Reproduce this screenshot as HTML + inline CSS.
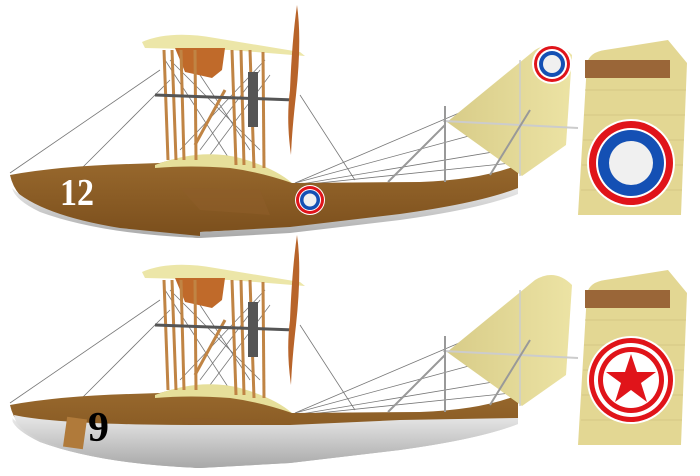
<!DOCTYPE html>
<html><head><meta charset="utf-8"><style>html,body{margin:0;padding:0;background:#fff}svg{display:block}</style></head>
<body>
<svg width="700" height="476" viewBox="0 0 700 476" xmlns="http://www.w3.org/2000/svg">
<defs>
<linearGradient id="wood" x1="0" x2="0" y1="0" y2="1"><stop offset="0" stop-color="#9a6a2e"/><stop offset="1" stop-color="#7a4e1c"/></linearGradient>
<linearGradient id="yel" x1="0" x2="1"><stop offset="0" stop-color="#d8cc88"/><stop offset="1" stop-color="#ece3a4"/></linearGradient>
<linearGradient id="grey" x1="0" x2="0" y1="0" y2="1"><stop offset="0" stop-color="#e8e8e8"/><stop offset="1" stop-color="#a8a8a8"/></linearGradient>
<g id="plane">
  <g stroke="#777" stroke-width="0.8" fill="none">
    <line x1="10" y1="173" x2="160" y2="70"/><line x1="50" y1="200" x2="170" y2="80"/>
    <line x1="300" y1="95" x2="355" y2="180"/><line x1="295" y1="183" x2="560" y2="70"/>
    <line x1="295" y1="183" x2="565" y2="110"/><line x1="295" y1="185" x2="565" y2="140"/>
    <line x1="300" y1="185" x2="540" y2="160"/>
    <line x1="170" y1="60" x2="260" y2="150"/><line x1="180" y1="150" x2="265" y2="60"/>
    <line x1="190" y1="60" x2="250" y2="150"/><line x1="200" y1="150" x2="260" y2="70"/>
    <line x1="165" y1="60" x2="230" y2="160"/><line x1="210" y1="155" x2="270" y2="75"/>
  </g>
  <path d="M10,175 Q60,166 130,164 L160,163 Q200,150 240,163 Q270,172 292,183 L420,182 Q480,180 518,165 L518,190 Q480,205 400,215 L290,228 L200,232 L200,238 Q100,232 40,210 Q15,198 10,175Z" fill="url(#wood)"/>
  <path d="M12,188 Q40,215 120,228 L200,236 L200,238 Q100,234 40,212 Q15,200 12,188Z" fill="url(#grey)"/>
  <path d="M200,232 L290,227 L400,214 Q480,203 518,188 L518,194 Q480,209 400,220 L290,233 L200,238Z" fill="url(#grey)"/>
  <path d="M180,188 L260,190 L270,215 L200,210Z" fill="#8e5e2a" opacity="0.6"/>
  <path d="M155,165 Q200,148 240,158 Q275,168 292,183 Q260,172 230,168 Q190,165 155,168Z" fill="#e6df9a"/>
  <path d="M142,42 Q170,30 215,38 L300,52 L305,56 L230,50 L145,48Z" fill="#ece6a8"/>
  <path d="M175,48 L225,48 L222,70 L212,78 L185,72Z" fill="#c06a2a"/>
  <g stroke="#c08444" stroke-width="3">
    <line x1="164" y1="50" x2="168" y2="160"/><line x1="172" y1="50" x2="176" y2="160"/>
    <line x1="181" y1="50" x2="184" y2="160"/><line x1="195" y1="50" x2="196" y2="160"/>
    <line x1="232" y1="50" x2="236" y2="165"/><line x1="241" y1="50" x2="244" y2="165"/>
    <line x1="250" y1="50" x2="254" y2="168"/><line x1="263" y1="52" x2="264" y2="168"/>
    <line x1="225" y1="90" x2="195" y2="145"/>
  </g>
  <line x1="155" y1="95" x2="295" y2="100" stroke="#555" stroke-width="3"/>
  <rect x="248" y="72" width="10" height="55" fill="#555"/>
  <path d="M297,5 Q302,40 296,95 Q292,130 291,155 Q286,120 290,90 Q292,40 297,5Z" fill="#b8642a"/>
  <path d="M447,122 L535,50 Q555,38 572,55 L566,145 L522,176 Z" fill="url(#yel)"/>
  <line x1="443" y1="121" x2="578" y2="128" stroke="#ccc" stroke-width="2"/>
  <line x1="445" y1="106" x2="445" y2="182" stroke="#999" stroke-width="2"/>
  <line x1="520" y1="60" x2="520" y2="176" stroke="#ccc" stroke-width="1.5"/>
  <line x1="490" y1="175" x2="530" y2="110" stroke="#999" stroke-width="2"/>
  <line x1="388" y1="182" x2="445" y2="125" stroke="#999" stroke-width="2"/>
  <path d="M578,215 L587,63 Q590,52 605,50 L668,40 L687,63 L681,215Z" fill="#e3d793"/>
  <g stroke="#cfc282" stroke-width="0.7"><line x1="585" y1="90" x2="686" y2="90"/><line x1="584" y1="115" x2="685" y2="115"/><line x1="583" y1="140" x2="684" y2="140"/><line x1="582" y1="165" x2="683" y2="165"/><line x1="581" y1="190" x2="682" y2="190"/></g>
  <rect x="585" y="60" width="85" height="18" fill="#9a6638"/>
</g>
</defs>

<use href="#plane"/>
<use href="#plane" transform="translate(0,230)"/>

<circle cx="552" cy="64" r="20" fill="#fff"/><circle cx="552" cy="64" r="18" fill="#e0141a"/><circle cx="552" cy="64" r="15" fill="#fff"/><circle cx="552" cy="64" r="13" fill="#1450b4"/><circle cx="552" cy="64" r="9" fill="#f0f0f0"/>
<circle cx="631" cy="163" r="44" fill="#fff"/><circle cx="631" cy="163" r="42" fill="#e0141a"/><circle cx="631" cy="163" r="35" fill="#fff"/><circle cx="631" cy="163" r="33" fill="#1450b4"/><circle cx="631" cy="163" r="22" fill="#f0f0f0"/>
<circle cx="310" cy="200" r="15" fill="#fff"/><circle cx="310" cy="200" r="14" fill="#e0141a"/><circle cx="310" cy="200" r="11" fill="#fff"/><circle cx="310" cy="200" r="10" fill="#1450b4"/><circle cx="310" cy="200" r="6.5" fill="#f0f0f0"/>
<text x="60" y="205" font-family="Liberation Serif, serif" font-weight="bold" font-size="38" fill="#fff" textLength="34" lengthAdjust="spacingAndGlyphs">12</text>

<path d="M12,420 Q40,445 120,458 L200,466 L200,468 Q100,464 40,442 Q15,430 12,420Z" fill="url(#grey)"/>
<path d="M14,415 Q60,425 200,425 L290,425 L400,420 L518,418 L518,424 Q480,439 400,450 L290,463 L200,468 Q100,462 40,440 Q15,428 14,415Z" fill="url(#grey)"/>
<rect x="65" y="418" width="20" height="30" fill="#b07a3a" transform="rotate(8 75 433)"/>
<circle cx="631" cy="380" r="44" fill="#fff"/><circle cx="631" cy="380" r="42" fill="#e0141a"/><circle cx="631" cy="380" r="37" fill="#fff"/><circle cx="631" cy="380" r="33" fill="#e0141a"/><circle cx="631" cy="380" r="28" fill="#fff"/>
<polygon points="631,354 637,372 656,372 641,383 647,402 631,390 615,402 621,383 606,372 625,372" fill="#e0141a"/>
<text x="88" y="441" font-family="Liberation Serif, serif" font-weight="bold" font-size="42" fill="#000">9</text>
</svg>
</body></html>
